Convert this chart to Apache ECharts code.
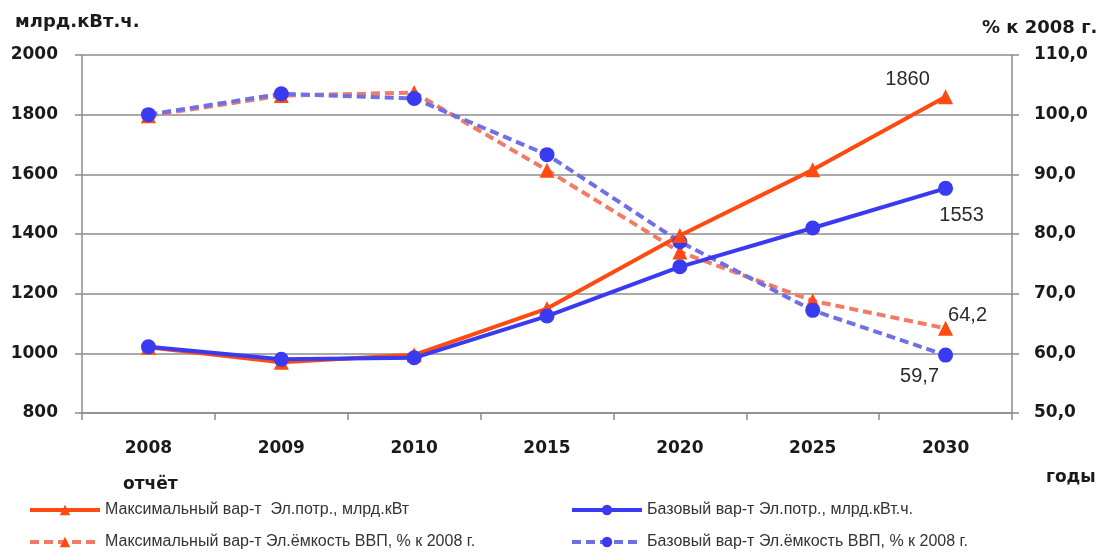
<!DOCTYPE html>
<html><head><meta charset="utf-8">
<script src="https://cdn.jsdelivr.net/npm/echarts@6/dist/echarts.min.js"></script>
<style>html,body{margin:0;padding:0;background:#fff}#c{width:1108px;height:554px}</style>
</head><body><div id="c"></div>
<script>
const years = ['2008','2009','2010','2015','2020','2025','2030'];
const maxCons = [1020, 970, 995, 1150, 1395, 1615, 1860];
const baseCons = [1022, 980, 985, 1125, 1290, 1420, 1553];
const maxIntensity = [99.8, 103.2, 103.7, 90.7, 77.0, 68.8, 64.2];
const baseIntensity = [100.0, 103.5, 102.7, 93.3, 78.7, 67.2, 59.7];
const leftTicks = {min: 800, max: 2000, interval: 200};
const rightTicks = {min: 50, max: 110, interval: 10};
const names = ['Максимальный вар-т  Эл.потр., млрд.кВт','Базовый вар-т Эл.потр., млрд.кВт.ч.','Максимальный вар-т Эл.ёмкость ВВП, % к 2008 г.','Базовый вар-т Эл.ёмкость ВВП, % к 2008 г.'];

const RED = '#ff4a12', BLUE = '#3a3af0', RED_D = '#f27a66', BLUE_D = '#6f70e6';
const axisFont = {fontFamily: 'DejaVu Sans', fontWeight: 'bold', fontSize: 17, color: '#1a1a1a'};
const lblFont = {fontFamily: 'Liberation Sans', fontSize: 20, color: '#2a2a2a'};
const last = (fmt) => (p) => p.dataIndex === years.length - 1 ? fmt(p.value) : '';
const comma = v => v.toFixed(1).replace('.', ',');
const legText = {fontFamily: 'Liberation Sans', fontSize: 16, color: '#333'};

const chart = echarts.init(document.getElementById('c'));
chart.setOption({
  animation: false,
  grid: {left: 82, right: 96, top: 55, bottom: 141},
  xAxis: {
    type: 'category', data: years, boundaryGap: true,
    axisLine: {lineStyle: {color: '#8c8c8c', width: 1.5}},
    axisTick: {show: true, length: 7, lineStyle: {color: '#8c8c8c', width: 1.5}},
    axisLabel: Object.assign({margin: 27}, axisFont)
  },
  yAxis: [
    {type: 'value', min: leftTicks.min, max: leftTicks.max, interval: leftTicks.interval,
     axisLine: {show: true, lineStyle: {color: '#8c8c8c', width: 1.5}},
     axisTick: {show: true, length: 7, lineStyle: {color: '#8c8c8c', width: 1.5}},
     splitLine: {lineStyle: {color: '#8c8c8c', width: 1.5}},
     axisLabel: Object.assign({margin: 24, formatter: v => String(v)}, axisFont)},
    {type: 'value', min: rightTicks.min, max: rightTicks.max, interval: rightTicks.interval, position: 'right',
     axisLine: {show: true, lineStyle: {color: '#8c8c8c', width: 1.5}},
     axisTick: {show: true, length: 7, lineStyle: {color: '#8c8c8c', width: 1.5}},
     splitLine: {show: false},
     axisLabel: Object.assign({margin: 22, formatter: v => comma(v)}, axisFont)}
  ],
  legend: [
    {left: 28, top: 502, padding: 0, orient: 'vertical', itemGap: 16, itemWidth: 70, itemHeight: 13,
     lineStyle: {width: 4}, data: [names[0], names[2]], textStyle: legText},
    {left: 570, top: 502, padding: 0, orient: 'vertical', itemGap: 16, itemWidth: 70, itemHeight: 13,
     lineStyle: {width: 4}, data: [names[1], names[3]], textStyle: legText}
  ],
  series: [
    {name: names[2], type: 'line', yAxisIndex: 1, data: maxIntensity, symbol: 'triangle', symbolSize: 15,
     lineStyle: {color: RED_D, width: 4, type: [9, 5]}, itemStyle: {color: RED},
     label: Object.assign({show: true, position: 'top', offset: [22, 10], formatter: last(comma)}, lblFont)},
    {name: names[3], type: 'line', yAxisIndex: 1, data: baseIntensity, symbol: 'circle', symbolSize: 15,
     lineStyle: {color: BLUE_D, width: 4, type: [9, 5]}, itemStyle: {color: BLUE},
     label: Object.assign({show: true, position: 'bottom', offset: [-26, -1], formatter: last(comma)}, lblFont)},
    {name: names[0], type: 'line', data: maxCons, symbol: 'triangle', symbolSize: 15,
     lineStyle: {color: RED, width: 4}, itemStyle: {color: RED},
     label: Object.assign({show: true, position: 'top', offset: [-38, 5], formatter: last(v => String(v))}, lblFont)},
    {name: names[1], type: 'line', data: baseCons, symbol: 'circle', symbolSize: 15,
     lineStyle: {color: BLUE, width: 4}, itemStyle: {color: BLUE},
     label: Object.assign({show: true, position: 'bottom', offset: [16, 5], formatter: last(v => String(v))}, lblFont)}
  ],
  graphic: [
    {type: 'text', left: 15, top: 13, style: {text: 'млрд.кВт.ч.', font: 'bold 18px "DejaVu Sans"', fill: '#1a1a1a'}},
    {type: 'text', left: 982, top: 19, style: {text: '% к 2008 г.', font: 'bold 18px "DejaVu Sans"', fill: '#1a1a1a'}},
    {type: 'text', left: 123, top: 476, style: {text: 'отчёт', font: 'bold 17px "DejaVu Sans"', fill: '#1a1a1a'}},
    {type: 'text', left: 1046, top: 469, style: {text: 'годы', font: 'bold 17px "DejaVu Sans"', fill: '#1a1a1a'}}
  ]
});
</script>
</body></html>
